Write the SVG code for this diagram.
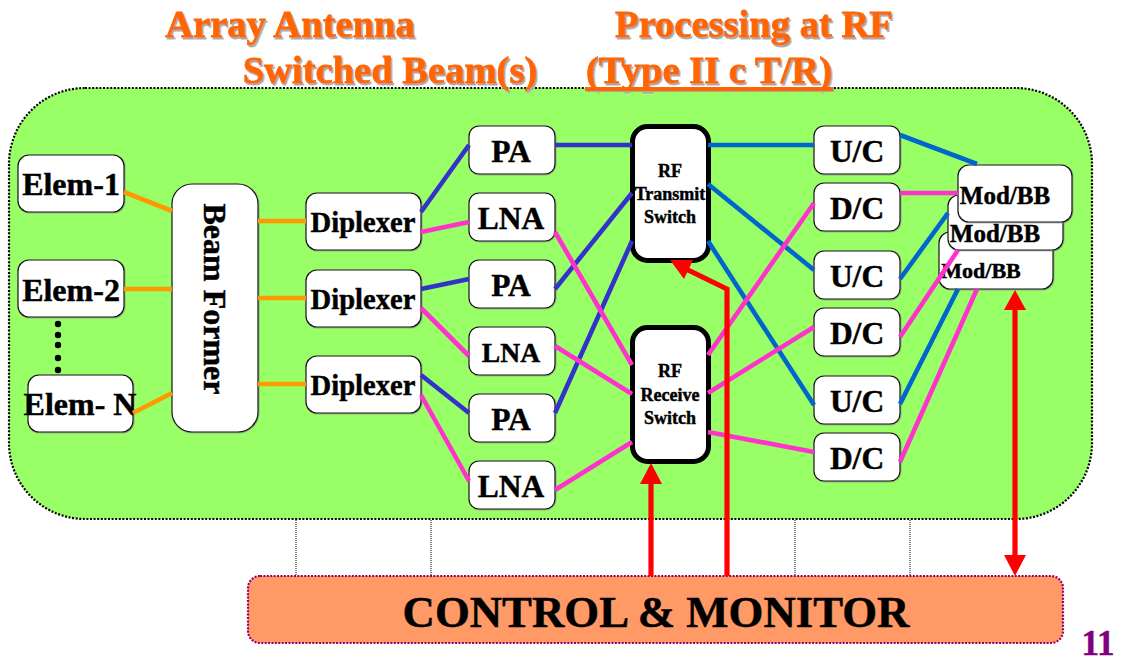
<svg xmlns="http://www.w3.org/2000/svg" width="1121" height="663" viewBox="0 0 1121 663">
<style>
text{font-family:"Liberation Serif","Times New Roman",serif;font-weight:bold;fill:#000;stroke:#000;stroke-width:.45;text-anchor:middle}
.n{fill:#fff;stroke:#111;stroke-width:1.2;filter:url(#bs)}
.sw{fill:#fff;stroke:#000;stroke-width:5}
text.t{fill:#ff6600;stroke:#ff6600;stroke-width:.8;font-size:38.6px;filter:url(#sh)}
.m{font-size:31.5px}
.or,.pu,.bl,.mg,.rd{fill:none;stroke-width:4.6}
.or{stroke:#ff9900}.pu{stroke:#3333cc}.bl{stroke:#0066cc}.mg{stroke:#ff33cc}.rd{stroke:#ff0000;stroke-width:5.2}
.ah{fill:#ff0000}
.thin{stroke:#000;stroke-width:1;stroke-dasharray:1 1}
</style>
<defs>
<filter id="sh" x="-5%" y="-10%" width="110%" height="130%"><feDropShadow dx="1.5" dy="2" stdDeviation="0.4" flood-color="#aaaaaa"/></filter>
<filter id="bs" x="-5%" y="-5%" width="110%" height="110%"><feDropShadow dx="0.5" dy="0.5" stdDeviation="0" flood-color="#777777"/></filter>
</defs>
<rect id="background" x="9" y="88" width="1083" height="431" rx="76" fill="#99ff66" stroke="#000" stroke-width="2.2" stroke-dasharray="2 1.6"/>
<g id="title">
<text class="t" x="290" y="37">Array Antenna</text>
<text class="t" x="390" y="83">Switched Beam(s)</text>
<text class="t" x="754" y="37">Processing at RF</text>
<text class="t" x="709" y="83">(Type II c T/R)</text>
<rect x="585" y="87" width="248" height="4" fill="#ff6600" filter="url(#sh)"/>
</g>
<g id="grid">
<line class="thin" x1="296" y1="520" x2="296" y2="576"/>
<line class="thin" x1="431" y1="520" x2="431" y2="576"/>
<line class="thin" x1="795" y1="520" x2="795" y2="576"/>
<line class="thin" x1="910" y1="520" x2="910" y2="576"/>
</g>
<g id="elem1"><rect class="n" x="18" y="155" width="106" height="57" rx="11"/><text font-size="32" x="71" y="195">Elem-1</text></g>
<g id="elem2"><rect class="n" x="18" y="260" width="106" height="57" rx="11"/><text font-size="32" x="71" y="301">Elem-2</text></g>
<g id="elemN"><rect class="n" x="28" y="375" width="105" height="57" rx="11"/><text font-size="32" x="80" y="415">Elem- N</text></g>
<g id="dots" fill="#000"><circle cx="58" cy="324" r="3.2"/><circle cx="58" cy="335" r="3.2"/><circle cx="58" cy="345" r="3.2"/><circle cx="58" cy="358" r="3.2"/><circle cx="58" cy="370" r="3.2"/></g>
<g id="beamformer"><rect class="n" x="172" y="184" width="86" height="248" rx="20"/><text font-size="32" transform="translate(204,299) rotate(90)">Beam Former</text></g>
<g id="dip1"><rect class="n" x="306" y="193" width="115" height="57" rx="11"/><text font-size="28.6" x="363" y="232">Diplexer</text></g>
<g id="dip2"><rect class="n" x="306" y="270" width="115" height="57" rx="11"/><text font-size="28.6" x="363" y="309">Diplexer</text></g>
<g id="dip3"><rect class="n" x="306" y="356" width="115" height="57" rx="11"/><text font-size="28.6" x="363" y="395">Diplexer</text></g>
<g id="pa1"><rect class="n" x="469" y="126" width="86" height="48" rx="10"/><text class="m" x="511" y="162">PA</text></g>
<g id="lna1"><rect class="n" x="469" y="193" width="86" height="48" rx="10"/><text class="m" x="511" y="229">LNA</text></g>
<g id="pa2"><rect class="n" x="469" y="260" width="86" height="48" rx="10"/><text class="m" x="511" y="296">PA</text></g>
<g id="lna2"><rect class="n" x="469" y="327" width="86" height="48" rx="10"/><text font-size="27.6" x="511" y="362">LNA</text></g>
<g id="pa3"><rect class="n" x="469" y="394" width="86" height="48" rx="10"/><text class="m" x="511" y="430">PA</text></g>
<g id="lna3"><rect class="n" x="469" y="461" width="86" height="48" rx="10"/><text class="m" x="511" y="497">LNA</text></g>
<g id="txswitch"><rect class="sw" x="632.5" y="126.5" width="76" height="134" rx="15"/><text font-size="18" x="670" y="177">RF</text><text font-size="18" x="670" y="200">Transmit</text><text font-size="18" x="670" y="223">Switch</text></g>
<g id="rxswitch"><rect class="sw" x="632.5" y="327.5" width="76" height="134" rx="15"/><text font-size="18" x="670" y="377">RF</text><text font-size="18" x="670" y="401">Receive</text><text font-size="18" x="670" y="424">Switch</text></g>
<g id="uc1"><rect class="n" x="814" y="126" width="86" height="48" rx="10"/><text class="m" x="857" y="162">U/C</text></g>
<g id="dc1"><rect class="n" x="814" y="183" width="86" height="48" rx="10"/><text class="m" x="857" y="219">D/C</text></g>
<g id="uc2"><rect class="n" x="814" y="251" width="86" height="48" rx="10"/><text class="m" x="857" y="287">U/C</text></g>
<g id="dc2"><rect class="n" x="814" y="308" width="86" height="48" rx="10"/><text class="m" x="857" y="344">D/C</text></g>
<g id="uc3"><rect class="n" x="814" y="376" width="86" height="48" rx="10"/><text class="m" x="857" y="412">U/C</text></g>
<g id="dc3"><rect class="n" x="814" y="433" width="86" height="48" rx="10"/><text class="m" x="857" y="469">D/C</text></g>
<g id="mod3"><rect class="n" x="939" y="232" width="114" height="57" rx="11"/><text font-size="22" x="981" y="278">Mod/BB</text></g>
<g id="mod2"><rect class="n" x="948" y="195" width="115" height="55" rx="11"/><text font-size="25" x="995" y="242">Mod/BB</text></g>
<g id="mod1"><rect class="n" x="958" y="165" width="114" height="57" rx="11"/><text font-size="25" x="1005" y="204">Mod/BB</text></g>
<g id="control"><rect x="248" y="576" width="815" height="67" rx="12" fill="#ff9966" stroke="#990066" stroke-width="2.2" stroke-dasharray="2 1.4"/><text font-size="44.8" x="656" y="627">CONTROL &amp; MONITOR</text></g>
<text id="page" font-size="35" x="1098" y="655" style="fill:#800080;stroke:#800080">11</text>
<g id="connectors">
<path class="or" d="M124 192L172 211M124 289H172M133 413L172 393M258 221H306M258 298H306M258 384H306"/>
<path class="pu" d="M421 212L469 145M421 289L469 279M421 375L469 413M555 145H632M555 289L632 193M555 413L632 241"/>
<path class="mg" d="M421 232L469 222M421 308L469 356M421 395L469 481M555 232L632 365M555 346L632 394M555 490L632 442"/>
<path class="bl" d="M708 145H814M708 184L814 270M708 241L814 405M900 135L977 164M900 279L948 213M900 404L958 289"/>
<path class="mg" d="M708 355L814 203M708 393L814 327M708 432L814 452M900 193H958M900 337L958 250M900 462L977 289"/>
<path class="rd" d="M651 576V482M727 576V289L686 269M1015 308V557"/>
<path class="ah" d="M651 463L662 484H640ZM670 260L693 260L684 279ZM1015 290L1026 310H1004ZM1015 576L1026 555H1004Z"/>
</g>
</svg>
